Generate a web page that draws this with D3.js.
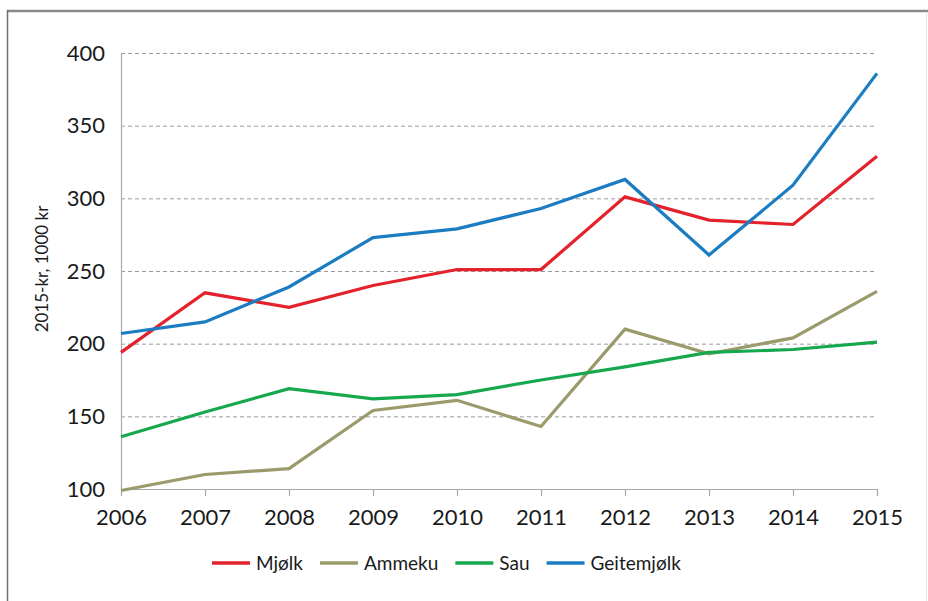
<!DOCTYPE html>
<html>
<head>
<meta charset="utf-8">
<script src="https://cdn.jsdelivr.net/npm/d3@7"></script>
<style>
  body { margin: 0; background: #fff; }
  svg { display: block; font-family: Lato, "Open Sans", sans-serif; }
</style>
</head>
<body>
<div id="chart"></div>
<script>
// ====================== data ======================
const years = [2006, 2007, 2008, 2009, 2010, 2011, 2012, 2013, 2014, 2015];
const mjolk = [194, 235, 225, 240, 251, 251, 301, 285, 282, 329];
const ammeku = [99, 110, 114, 154, 161, 143, 210, 193, 204, 236];
const sau = [136, 153, 169, 162, 165, 175, 184, 194, 196, 201];
const geitemjolk = [207, 215, 239, 273, 279, 293, 313, 261, 309, 386];
const yTicks = [100, 150, 200, 250, 300, 350, 400];
const seriesNames = ["Mjølk", "Ammeku", "Sau", "Geitemjølk"];
const seriesColors = ["#e3222b", "#9b9a6b", "#16a84c", "#1b7cc2"];
const yLabel = "2015-kr, 1000 kr";

const series = [mjolk, ammeku, sau, geitemjolk].map((vals, i) => ({
  name: seriesNames[i],
  color: seriesColors[i],
  values: vals.map((v, j) => ({ year: years[j], value: v }))
}));

// ====================== layout ======================
const width = 928, height = 601;
const margin = { top: 53, right: 51, bottom: 112, left: 121 };

const svg = d3.select("#chart").append("svg")
  .attr("width", width)
  .attr("height", height);

// frame
svg.append("line").attr("x1", 7).attr("x2", width).attr("y1", 11).attr("y2", 11)
  .attr("stroke", "#8a8a8a").attr("stroke-width", 2.5);
svg.append("line").attr("x1", 7.5).attr("x2", 7.5).attr("y1", 10).attr("y2", height)
  .attr("stroke", "#6e6e6e").attr("stroke-width", 1.5);
svg.append("line").attr("x1", 926.5).attr("x2", 926.5).attr("y1", 12).attr("y2", height)
  .attr("stroke", "#e4e4e4").attr("stroke-width", 1);

const x = d3.scaleLinear()
  .domain(d3.extent(years))
  .range([margin.left, width - margin.right]);

const y = d3.scaleLinear()
  .domain([100, 400])
  .range([height - margin.bottom, margin.top]);

// gridlines
svg.append("g")
  .selectAll("line")
  .data(yTicks.filter(d => d > 100))
  .join("line")
  .attr("x1", x.range()[0])
  .attr("x2", x.range()[1])
  .attr("y1", d => y(d) + 0.5)
  .attr("y2", d => y(d) + 0.5)
  .attr("stroke", "#9a9a9a")
  .attr("stroke-width", 1)
  .attr("stroke-dasharray", "4,3");

// y axis
const yAxis = svg.append("g")
  .attr("transform", `translate(${margin.left},0)`)
  .call(d3.axisLeft(y).tickValues(yTicks).tickSize(0).tickPadding(16));
yAxis.select(".domain").attr("stroke", "#a8a8a8").attr("stroke-width", 1.2);
yAxis.selectAll("text")
  .attr("font-size", 22)
  .attr("fill", "#1a1a1a")
  .style("font-family", "Lato, sans-serif");

// x axis
const xAxis = svg.append("g")
  .attr("transform", `translate(0,${y(100)})`)
  .call(d3.axisBottom(x).tickValues(years).tickFormat(d3.format("d")).tickSize(7).tickSizeOuter(0).tickPadding(13));
xAxis.select(".domain").attr("stroke", "#a8a8a8").attr("stroke-width", 1.2);
xAxis.selectAll(".tick line").attr("stroke", "#a8a8a8").attr("stroke-width", 1.2);
xAxis.selectAll("text")
  .attr("font-size", 22)
  .attr("fill", "#1a1a1a")
  .style("font-family", "Lato, sans-serif");

// y label
svg.append("text")
  .attr("transform", `translate(48,${(y(100) + y(400)) / 2 - 2}) rotate(-90)`)
  .attr("text-anchor", "middle")
  .attr("font-size", 17)
  .attr("fill", "#1a1a1a")
  .text(yLabel);

// lines
const line = d3.line()
  .x(d => x(d.year))
  .y(d => y(d.value));

svg.append("g")
  .selectAll("path")
  .data(series)
  .join("path")
  .attr("fill", "none")
  .attr("stroke", d => d.color)
  .attr("stroke-width", 3.2)
  .attr("stroke-linejoin", "miter")
  .attr("d", d => line(d.values));

// legend
const legend = svg.append("g").attr("transform", "translate(212,563)");
let lx = 0;
series.forEach(s => {
  const g = legend.append("g").attr("transform", `translate(${lx},0)`);
  g.append("line")
    .attr("x1", 0).attr("x2", 38)
    .attr("stroke", s.color)
    .attr("stroke-width", 3.5);
  const t = g.append("text")
    .attr("x", 44)
    .attr("dy", "0.35em")
    .attr("font-size", 19)
    .attr("fill", "#1a1a1a")
    .text(s.name);
  lx += 44 + t.node().getComputedTextLength() + 17;
});
</script>
</body>
</html>
